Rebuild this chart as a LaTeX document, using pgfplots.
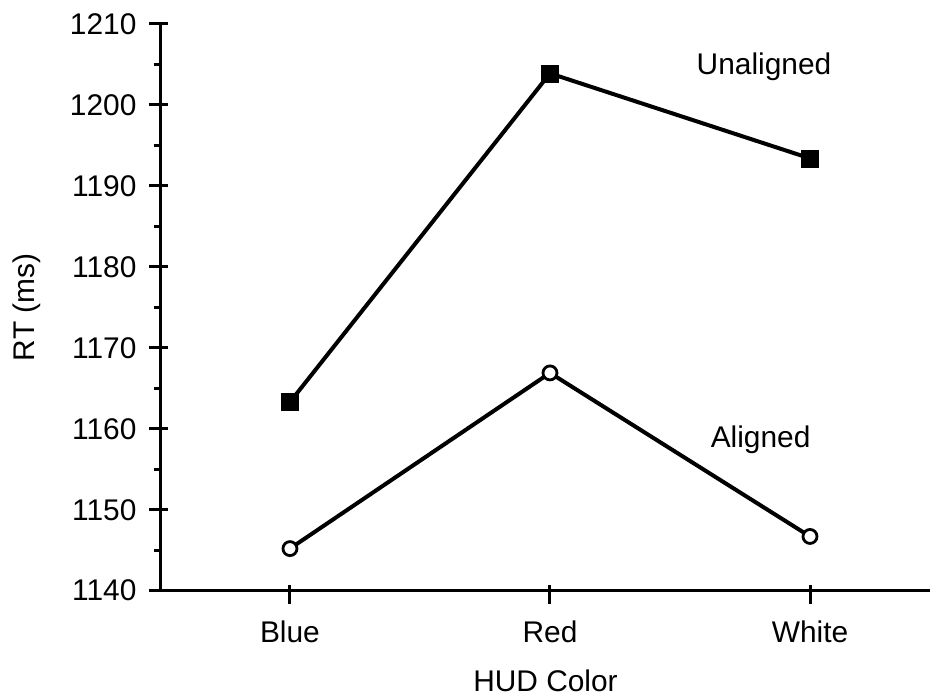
\documentclass[border=0pt]{standalone}
\usepackage{pgfplots}
\pgfplotsset{compat=1.18}
\usepackage{fontspec}
\setmainfont{Liberation Sans}
\begin{document}
\begin{tikzpicture}
\begin{axis}[
  at={(0,0)}, anchor=south west,
  scale only axis,
  width=769bp, height=566.7bp,
  xmin=-0.496, xmax=2.4615,
  ymin=1140, ymax=1210,
  axis x line=bottom, axis y line=left,
  axis line style={-, line width=3bp},
  xtick={0,1,2}, xticklabels={Blue,Red,White},
  ytick={1140,1150,...,1210},
  minor y tick num=1,
  tick align=outside,
  major tick length=19bp,
  minor tick length=7bp,
  major y tick style={xshift=7bp},
  major x tick style={yshift=6bp},
  tick style={line width=3bp, black},
  /pgf/number format/assume math mode=true,
  /pgf/number format/1000 sep={},
  tick label style={font=\fontsize{30}{36}\selectfont},
  label style={font=\fontsize{30}{36}\selectfont},
  yticklabel style={xshift=-2bp},
  xticklabel style={yshift=-8bp},
  xlabel={HUD Color},
  ylabel={RT (ms)},
  xlabel style={at={(axis description cs:0.5,0)}, anchor=center, yshift=-90bp},
  ylabel style={at={(axis description cs:0,0.5)}, anchor=center, yshift=134bp},
  clip=false,
]
\addplot[black, line width=4bp, mark=square*, mark size=8.5bp, mark options={solid, fill=black, line width=0.5bp}]
  coordinates {(0,1163.3) (1,1203.9) (2,1193.4)};
\addplot[black, line width=4bp, mark=*, mark size=7bp, mark options={solid, fill=white, line width=2.8bp}]
  coordinates {(0,1145.2) (1,1166.9) (2,1146.7)};
\node[font=\fontsize{30}{36}\selectfont] at (axis cs:1.823,1204.7) {Unaligned};
\node[font=\fontsize{30}{36}\selectfont] at (axis cs:1.81,1158.6) {Aligned};
\end{axis}
\pgfresetboundingbox
\path (-161bp,-109.3bp) rectangle (770bp,590.7bp);
\end{tikzpicture}
\end{document}
